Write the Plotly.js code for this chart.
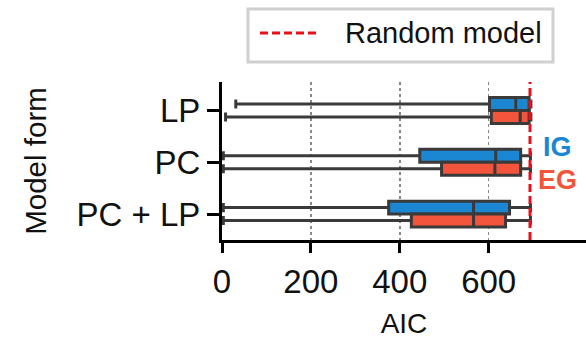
<!DOCTYPE html>
<html>
<head>
<meta charset="utf-8">
<script src="https://cdn.plot.ly/plotly-3.0.1.min.js"></script>
<style>html,body{margin:0;padding:0;background:#fff;}#chart{width:586px;height:339px;}</style>
</head>
<body>
<div id="chart"></div>
<script>
// Data
var categories = ["LP", "PC", "PC + LP"];
var igLower  = [31, 3, 3];
var igQ1     = [602, 445, 375];
var igMedian = [661, 616, 566];
var igQ3     = [691, 672, 647];
var igUpper  = [695, 694, 694];
var egLower  = [8, 3, 3];
var egQ1     = [606, 494, 426];
var egMedian = [671, 614, 566];
var egQ3     = [691, 672, 638];
var egUpper  = [695, 694, 694];
var randomModelAIC = 693;
var xTicks = [0, 200, 400, 600];
var legendLabel = "Random model";

var FONT = "Liberation Sans, Arial, sans-serif";
var BLUE = "#1b87d2";
var RED = "#f2553b";
var EDGE = "#3a3a3a";
var LINE_RED = "#e8101a";

function boxTrace(name, lo, q1, med, q3, hi, color) {
  return {
    type: "box", orientation: "h", name: name, y: categories,
    lowerfence: lo, q1: q1, median: med, q3: q3, upperfence: hi,
    fillcolor: color, line: {color: EDGE, width: 3},
    whiskerwidth: 0.7, boxpoints: false, showlegend: false, hoverinfo: "skip"
  };
}

var traces = [
  boxTrace("IG", igLower, igQ1, igMedian, igQ3, igUpper, BLUE),
  boxTrace("EG", egLower, egQ1, egMedian, egQ3, egUpper, RED)
];

var layout = {
  width: 586, height: 339,
  margin: {l: 222, r: 0, t: 82, b: 99},
  paper_bgcolor: "#fff", plot_bgcolor: "#fff",
  font: {family: FONT, color: "#111"},
  showlegend: false,
  boxmode: "group", boxgap: 0.5, boxgroupgap: 0,
  xaxis: {
    range: [0, 819], tickvals: xTicks, ticktext: xTicks.map(String),
    showgrid: true, gridcolor: "#888", griddash: "dot", gridwidth: 1.5,
    zeroline: false, showline: true, linecolor: "#000", linewidth: 3,
    ticks: "outside", ticklen: 10, tickwidth: 3, tickcolor: "#000",
    tickfont: {size: 33, family: FONT, color: "#111"},
    title: {text: "AIC", font: {size: 28, family: FONT, color: "#111"}, standoff: 15},
    automargin: false
  },
  yaxis: {
    type: "category", categoryorder: "array", categoryarray: categories,
    range: [2.5, -0.55], showgrid: false, zeroline: false,
    showline: true, linecolor: "#000", linewidth: 3,
    ticks: "outside", ticklen: 12, tickwidth: 3, tickcolor: "#000",
    tickfont: {size: 33, family: FONT, color: "#111"},
    title: {text: "Model form", font: {size: 29.5, family: FONT, color: "#111"}, standoff: 22},
    automargin: false
  },
  shapes: [
    {type: "line", xref: "x", yref: "paper", x0: randomModelAIC, x1: randomModelAIC, y0: 0, y1: 1,
     line: {color: LINE_RED, width: 3, dash: "8px,4px"}},
    // legend frame
    {type: "rect", xref: "paper", yref: "paper", x0: 0.0714, x1: 0.9093, y0: 1.1266, y1: 1.462,
     line: {color: "#d0d0d0", width: 3}, fillcolor: "rgba(0,0,0,0)"},
    // legend sample
    {type: "line", xref: "paper", yref: "paper", x0: 0.1044, x1: 0.2637, y0: 1.31, y1: 1.31,
     line: {color: LINE_RED, width: 3, dash: "8px,4px"}}
  ],
  annotations: [
    {xref: "paper", yref: "paper", x: 0.3324, y: 1.31, xanchor: "left", yanchor: "middle",
     text: legendLabel, showarrow: false, font: {size: 29, family: FONT, color: "#111"}},
    {xref: "paper", yref: "paper", x: 0.923, y: 0.589, xanchor: "center", yanchor: "middle",
     text: "<b>IG</b>", showarrow: false, font: {size: 27, family: FONT, color: BLUE}},
    {xref: "paper", yref: "paper", x: 0.923, y: 0.38, xanchor: "center", yanchor: "middle",
     text: "<b>EG</b>", showarrow: false, font: {size: 27, family: FONT, color: RED}}
  ]
};

Plotly.newPlot("chart", traces, layout, {displayModeBar: false, staticPlot: true});
</script>
</body>
</html>
